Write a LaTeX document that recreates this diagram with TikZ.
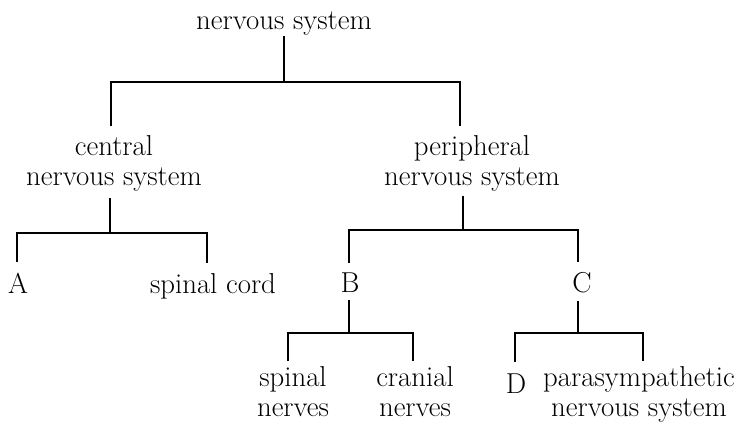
\documentclass[tikz,border=0pt]{standalone}
\begin{document}
\begin{tikzpicture}[x=1pt,y=-1pt,
  lbl/.style={inner sep=0pt, font=\fontsize{28.8}{30}\selectfont, align=center, anchor=base},
  conn/.style={line width=2.2pt, line join=miter}]
\useasboundingbox[fill=white] (0,0) rectangle (744,424);
% labels
\node[lbl] (ns)  at (284,29)  {nervous system};
\node[lbl] (cns) at (114,185) {central\\nervous system};
\node[lbl] (pns) at (472,185) {peripheral\\nervous system};
\node[lbl] (A)   at (18,293)  {A};
\node[lbl] (sc)  at (213,293) {spinal cord};
\node[lbl] (B)   at (350,292) {B};
\node[lbl] (C)   at (582,292) {C};
\node[lbl] (sn)  at (293,416.5) {spinal\\nerves};
\node[lbl] (cn)  at (415,416.5) {cranial\\nerves};
\node[lbl] (D)   at (516,393) {D};
\node[lbl] (ps)  at (639,416.5) {parasympathetic\\nervous system};
% junctions
\coordinate (j1) at (284,82);
\coordinate (j2) at (110,233);
\coordinate (j3) at (463,230);
\coordinate (j4) at (349,333);
\coordinate (j5) at (578,333);
% connectors
\draw[conn] ([yshift=-1pt]ns.south) -- (j1);
\draw[conn] ([xshift=-3pt,yshift=8.5pt]cns.north) |- (j1) -| ([xshift=-12pt,yshift=8.5pt]pns.north);
\draw[conn] ([xshift=-4pt,yshift=-6.5pt]cns.south) -- (j2);
\draw[conn] ([xshift=-1pt,yshift=10.5pt]A.north) |- (j2) -| ([xshift=-6pt,yshift=10pt]sc.north);
\draw[conn] ([xshift=-9pt,yshift=-4.5pt]pns.south) -- (j3);
\draw[conn] ([xshift=-1pt,yshift=9.5pt]B.north) |- (j3) -| ([xshift=-4pt,yshift=9.5pt]C.north);
\draw[conn] ([xshift=-1pt,yshift=-8pt]B.south) -- (j4);
\draw[conn] ([xshift=-5pt,yshift=5pt]sn.north) |- (j4) -| ([xshift=-2pt,yshift=5pt]cn.north);
\draw[conn] ([xshift=-4pt,yshift=-8pt]C.south) -- (j5);
\draw[conn] ([xshift=-1pt,yshift=11.5pt]D.north) |- (j5) -| ([xshift=4pt,yshift=5pt]ps.north);
\end{tikzpicture}
\end{document}
